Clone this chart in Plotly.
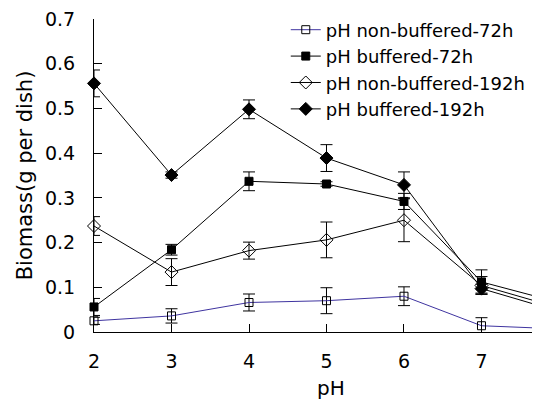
import plotly.graph_objects as go

ph = [2, 3, 4, 5, 6, 7, 8]

nb72 = [0.025, 0.036, 0.066, 0.070, 0.080, 0.014, 0.007]
nb72_err = [0.008, 0.016, 0.019, 0.029, 0.021, 0.018, 0.005]

b72 = [0.056, 0.184, 0.337, 0.331, 0.292, 0.112, 0.066]
b72_err = [0.019, 0.012, 0.021, 0.005, 0.018, 0.027, 0.010]

nb192 = [0.237, 0.134, 0.182, 0.206, 0.250, 0.104, 0.054]
nb192_err = [0.021, 0.030, 0.019, 0.040, 0.048, 0.020, 0.010]

b192 = [0.556, 0.351, 0.498, 0.389, 0.329, 0.097, 0.046]
b192_err = [0.030, 0.007, 0.021, 0.030, 0.029, 0.010, 0.010]

y_ticks = [0, 0.1, 0.2, 0.3, 0.4, 0.5, 0.6, 0.7]
y_labels = ["0", "0.1", "0.2", "0.3", "0.4", "0.5", "0.6", "0.7"]
x_ticks = [2, 3, 4, 5, 6, 7, 8]

FONT = "DejaVu Sans"

series = [
    ("pH non-buffered-72h", nb72, nb72_err, "#3F34A0", "square-open", 8),
    ("pH buffered-72h", b72, b72_err, "black", "square", 8),
    ("pH non-buffered-192h", nb192, nb192_err, "black", "diamond-open", 10),
    ("pH buffered-192h", b192, b192_err, "black", "diamond", 10),
]

fig = go.Figure()
for name, vals, errs, color, sym, size in series:
    fig.add_trace(go.Scatter(
        x=ph, y=vals, name=name, mode="lines+markers",
        line=dict(color=color, width=1),
        marker=dict(symbol=sym, size=size, color="black",
                    line=dict(color="black", width=1)),
        error_y=dict(type="data", array=errs, visible=True,
                     color="black", thickness=1, width=6),
        cliponaxis=False,
    ))

# the page body adds an 8px offset, so the figure is 8px smaller each way
fig.update_layout(
    width=532, height=392,
    margin=dict(l=86, r=0, t=11, b=68, autoexpand=False),
    plot_bgcolor="white", paper_bgcolor="white",
    font=dict(family=FONT, size=19, color="black"),
    showlegend=True,
    legend=dict(x=0.43, y=1.024, xanchor="left", yanchor="top",
                bgcolor="rgba(0,0,0,0)", borderwidth=0,
                font=dict(size=18, family=FONT), tracegroupgap=0,
                itemsizing="trace"),
    xaxis=dict(range=[2, 7.755], tickvals=x_ticks, ticks="inside",
               ticklen=8, tickcolor="black", showline=True,
               linecolor="black", linewidth=1, showgrid=False,
               zeroline=False, mirror=False, ticklabelstandoff=12,
               automargin=False, ticklabeloverflow="allow",
               tickfont=dict(size=19, family=FONT)),
    yaxis=dict(range=[0, 0.7], tickvals=y_ticks, ticktext=y_labels,
               ticks="inside", ticklen=8, tickcolor="black",
               showline=True, linecolor="black", linewidth=1,
               showgrid=False, zeroline=False, ticklabelstandoff=14,
               automargin=False, ticklabeloverflow="allow",
               tickfont=dict(size=19, family=FONT),
               title=dict(text="Biomass(g per dish)",
                          font=dict(size=21, family=FONT), standoff=6)),
    annotations=[dict(text="pH", xref="paper", yref="paper",
                      x=0.531, y=0, yshift=-56, xanchor="center",
                      yanchor="middle", showarrow=False,
                      font=dict(size=20, family=FONT))],
)

fig.write_html("out.html")
